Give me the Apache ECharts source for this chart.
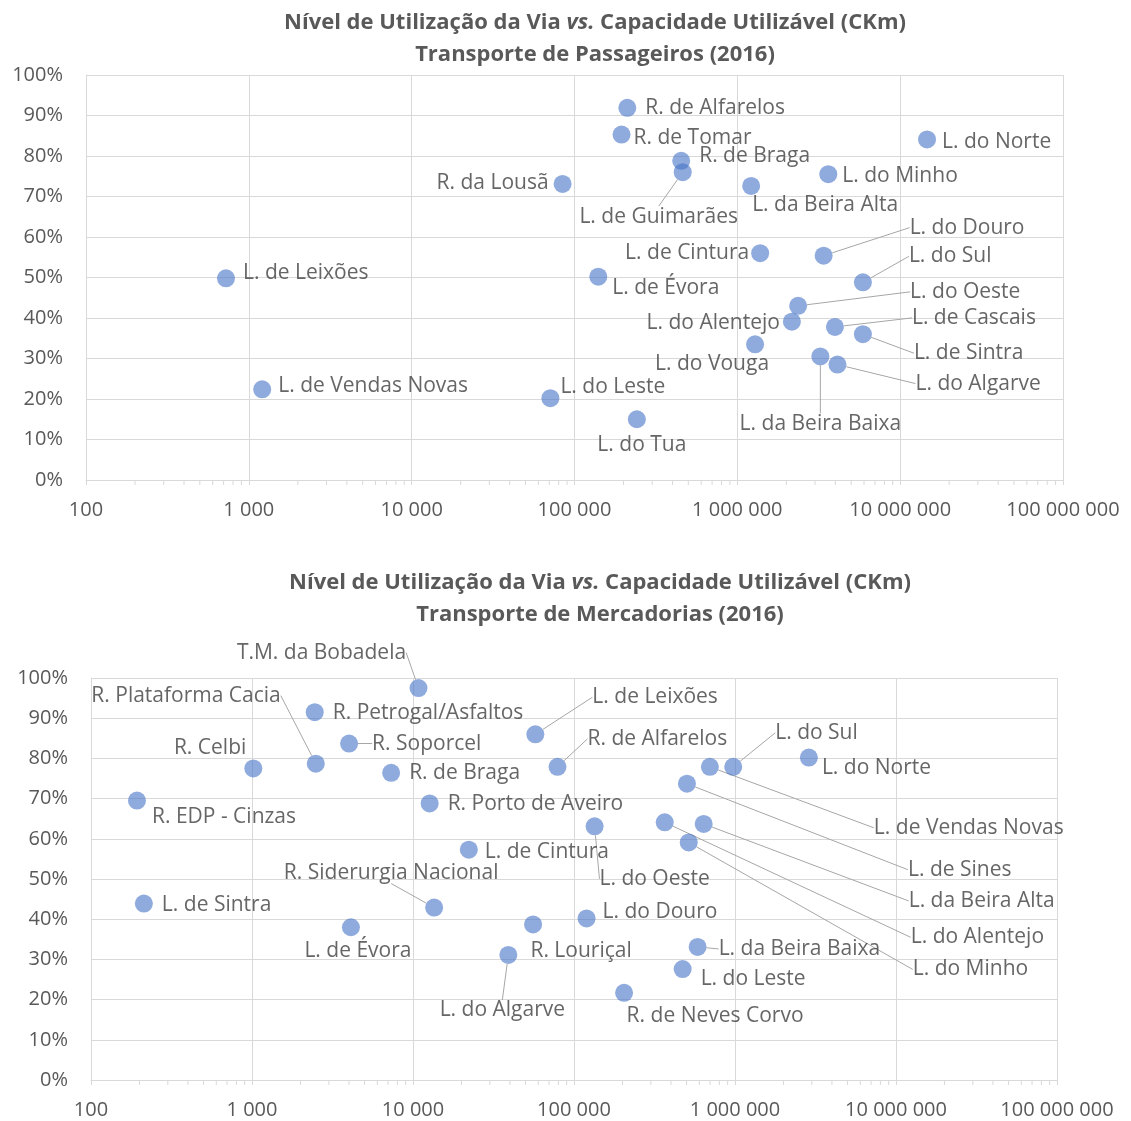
<!DOCTYPE html>
<html>
<head>
<meta charset="utf-8">
<script src="https://cdn.jsdelivr.net/npm/echarts@6/dist/echarts.min.js"></script>
<style>
html, body { margin: 0; padding: 0; background: #fff; }
#main { width: 1131px; height: 1121px; }
</style>
</head>
<body>
<div id="main"></div>
<script>
// Transporte de Passageiros (2016)
var passNames = ['R. de Alfarelos', 'R. de Tomar', 'R. de Braga', 'L. de Guimarães', 'R. da Lousã',
  'L. do Norte', 'L. do Minho', 'L. da Beira Alta', 'L. de Leixões', 'L. de Cintura', 'L. do Douro',
  'L. do Sul', 'L. de Évora', 'L. do Oeste', 'L. do Alentejo', 'L. de Cascais', 'L. de Sintra',
  'L. do Vouga', 'L. da Beira Baixa', 'L. do Algarve', 'L. de Vendas Novas', 'L. do Leste', 'L. do Tua'];
var passCkm = [211000, 194500, 452000, 462000, 84500, 14620000, 3620000, 1216000, 724, 1381000, 3389000,
  5903000, 140000, 2362000, 2163000, 3975000, 5903000, 1285000, 3235000, 4120000, 1208, 71100, 241500];
var passUse = [91.9, 85.3, 78.8, 76.0, 73.1, 84.1, 75.5, 72.6, 49.8, 56.0, 55.4,
  48.8, 50.2, 43.0, 39.1, 37.8, 36.0, 33.5, 30.5, 28.5, 22.4, 20.2, 15.0];

// Transporte de Mercadorias (2016)
var frtNames = ['T.M. da Bobadela', 'R. Petrogal/Asfaltos', 'R. Soporcel', 'R. Plataforma Cacia', 'R. Celbi',
  'R. de Braga', 'R. EDP - Cinzas', 'R. Porto de Aveiro', 'L. de Cintura', 'L. de Leixões', 'R. de Alfarelos',
  'L. do Sul', 'L. de Vendas Novas', 'L. do Norte', 'L. de Sines', 'L. do Oeste', 'L. do Alentejo',
  'L. da Beira Alta', 'L. do Minho', 'L. de Sintra', 'L. de Évora', 'R. Siderurgia Nacional', 'L. do Algarve',
  'R. Louriçal', 'L. do Douro', 'L. da Beira Baixa', 'L. do Leste', 'R. de Neves Corvo'];
var frtCkm = [10820, 2453, 4009, 2490, 1019, 7317, 193, 12690, 22220, 57540, 79000,
  975000, 698000, 2877000, 503000, 134300, 366000, 639000, 516000, 213, 4115, 13530, 39100,
  55700, 119700, 586000, 473000, 204700];
var frtUse = [97.5, 91.5, 83.7, 78.7, 77.5, 76.4, 69.5, 68.8, 57.3, 86.0, 77.9,
  77.9, 77.9, 80.2, 73.7, 63.1, 64.1, 63.7, 59.1, 43.9, 38.0, 42.9, 31.1,
  38.7, 40.2, 33.1, 27.6, 21.7];

// axis
var decades = [100, 1000, 10000, 100000, 1000000, 10000000];
var minorSteps = [2, 3, 4, 5, 6, 7, 8, 9];

// label placement: [position, dx, dy, leader line]
var passLabelPos = [
  ['right', 4, 0, 0], ['right', -2, 3, 0], ['right', 4, -5, 0], ['bottom', -24, 20, 1], ['left', 0, -1, 0],
  ['right', 1, 3, 0], ['right', 0, 2, 0], ['bottom', 74, -5, 0], ['right', 3, -5, 0], ['left', 3, 0, 0],
  ['right', 72, -28, 1], ['right', 32, -26, 1], ['right', 0, 11, 0], ['right', 98, -14, 1], ['left', 2, 1, 0],
  ['right', 63, -9, 1], ['right', 37, 19, 1], ['bottom', -43, -5, 0], ['bottom', 0, 43, 1], ['right', 64, 19, 1],
  ['right', 2, -3, 0], ['right', -4, -11, 0], ['bottom', 5, 1, 0]
];
var frtLabelPos = [
  ['top', -97, -11, 1], ['right', 4, 1, 0], ['right', 9, 0, 1], ['left', -21, -68, 1], ['left', 7, -20, 0],
  ['right', 4, 0, 0], ['right', 1, 16, 0], ['right', 4, 1, 0], ['right', 2, 2, 0], ['right', 43, -37, 1],
  ['right', 16, -28, 1], ['right', 28, -34, 1], ['right', 150, 61, 1], ['right', -1, 10, 0], ['right', 207, 86, 1],
  ['bottom', 60, 28, 1], ['right', 232, 115, 1], ['right', 191, 77, 1], ['right', 210, 127, 1], ['right', 4, 1, 0],
  ['bottom', 7, -1, 0], ['top', -43, -10, 1], ['bottom', -6, 31, 1], ['bottom', 48, 2, 0], ['right', 2, -6, 0],
  ['right', 7, 2, 1], ['right', 4, 10, 0], ['bottom', 91, -1, 0]
];

var FONT = '"Open Sans", "Noto Sans", sans-serif';
var GRIDC = '#d9d9d9';

var minorTicks = [];
decades.forEach(function (d) {
  minorSteps.forEach(function (m) { minorTicks.push(d * m); });
});

function fmtThousands(v) {
  return String(Math.round(v)).replace(/\B(?=(\d{3})+(?!\d))/g, ' ');
}

function makeXAxis(gi) {
  return {
    type: 'log', logBase: 10, gridIndex: gi, min: 100, max: 100000000,
    axisLine: { show: true, lineStyle: { color: GRIDC, width: 1 } },
    axisTick: { show: true, length: 5, lineStyle: { color: GRIDC } },
    axisLabel: { fontSize: 20, color: '#595959', fontFamily: FONT, margin: 20, formatter: fmtThousands },
    splitLine: { show: true, lineStyle: { color: GRIDC, width: 1 } }
  };
}

function makeYAxis(gi) {
  return {
    type: 'value', gridIndex: gi, min: 0, max: 100, interval: 10,
    axisLine: { show: true, lineStyle: { color: GRIDC, width: 1 } },
    axisTick: { show: false },
    axisLabel: { fontSize: 20, color: '#595959', fontFamily: FONT, margin: 23, formatter: '{value}%' },
    splitLine: { show: true, lineStyle: { color: GRIDC, width: 1 } }
  };
}

function makeScatter(gi, names, xs, ys, pos) {
  return {
    type: 'scatter', xAxisIndex: gi, yAxisIndex: gi,
    symbolSize: 18,
    itemStyle: { color: 'rgba(68,114,196,0.75)' },
    emphasis: { disabled: true },
    label: {
      show: true, fontSize: 21, color: '#404040', fontFamily: FONT,
      formatter: function (p) { return p.name; }
    },
    labelLine: { show: false, lineStyle: { color: '#a6a6a6', width: 1 } },
    labelLayout: function (p) {
      var s = pos[p.dataIndex];
      return { dx: s[1], dy: s[2] };
    },
    data: names.map(function (n, i) {
      return {
        name: n,
        value: [xs[i], ys[i]],
        label: { position: pos[i][0] },
        labelLine: { show: pos[i][3] === 1 }
      };
    })
  };
}

function makeMinorTicks(gi) {
  return {
    type: 'custom', xAxisIndex: gi, yAxisIndex: gi, silent: true, clip: false,
    data: minorTicks.map(function (v) { return [v, 0]; }),
    renderItem: function (params, api) {
      var p = api.coord([api.value(0), 0]);
      return {
        type: 'line',
        shape: { x1: p[0], y1: p[1], x2: p[0], y2: p[1] + 5 },
        style: { stroke: GRIDC, lineWidth: 1 }
      };
    }
  };
}

function makeTitle(sub, x, top) {
  return {
    text: '{b|Nível de Utilização da Via }{i|vs.}{b| Capacidade Utilizável (CKm)}\n{b|' + sub + '}',
    left: x, top: top, textAlign: 'center',
    textStyle: {
      rich: {
        b: { fontSize: 22, fontWeight: 'bold', color: '#595959', fontFamily: FONT, lineHeight: 32 },
        i: { fontSize: 22, fontWeight: 'bold', fontStyle: 'italic', color: '#595959', fontFamily: FONT, lineHeight: 32 }
      }
    }
  };
}

var myChart = echarts.init(document.getElementById('main'));
var option = {
  animation: false,
  title: [
    makeTitle('Transporte de Passageiros (2016)', 590, 2),
    makeTitle('Transporte de Mercadorias (2016)', 595, 562)
  ],
  grid: [
    { left: 86, right: 68, top: 75, bottom: 641 },
    { left: 91, right: 74, top: 678, bottom: 41 }
  ],
  xAxis: [makeXAxis(0), makeXAxis(1)],
  yAxis: [makeYAxis(0), makeYAxis(1)],
  series: [
    makeMinorTicks(0),
    makeMinorTicks(1),
    makeScatter(0, passNames, passCkm, passUse, passLabelPos),
    makeScatter(1, frtNames, frtCkm, frtUse, frtLabelPos)
  ]
};
myChart.setOption(option);
</script>
</body>
</html>
